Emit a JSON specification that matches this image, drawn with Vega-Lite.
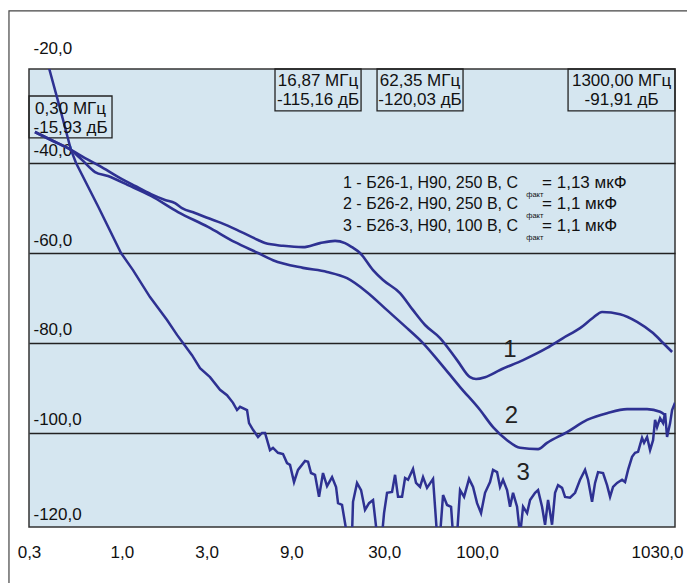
{
  "$schema": "https://vega.github.io/schema/vega-lite/v6.json",
  "width": 646,
  "height": 458,
  "autosize": {"type": "none"},
  "padding": {"left": 29, "top": 69, "right": 12, "bottom": 56},
  "background": "white",
  "datasets": {
    "frame": [{"f": 0.2314, "f2": 1900, "db": -6.2, "db2": -136}],
    "boxes": [
      {"f": 0.3, "f2": 0.88, "db": -25.1, "db2": -34.4},
      {"f": 7.279, "f2": 22.21, "db": -19.1, "db2": -28.4},
      {"f": 27.32, "f2": 83.3, "db": -19.1, "db2": -28.4},
      {"f": 325.0, "f2": 1300, "db": -19.1, "db2": -28.4}
    ],
    "curves": [
      {"s": "1", "f": 0.324, "db": -33.1}, {"s": "1", "f": 0.41, "db": -35.1}, {"s": "1", "f": 0.517, "db": -37.1},
      {"s": "1", "f": 0.62, "db": -38.9}, {"s": "1", "f": 0.753, "db": -40.7}, {"s": "1", "f": 0.951, "db": -43.1},
      {"s": "1", "f": 1.186, "db": -45.1}, {"s": "1", "f": 1.459, "db": -46.9}, {"s": "1", "f": 1.749, "db": -48.2},
      {"s": "1", "f": 1.991, "db": -48.9}, {"s": "1", "f": 2.18, "db": -50.0}, {"s": "1", "f": 2.58, "db": -51.1},
      {"s": "1", "f": 3.135, "db": -52.4}, {"s": "1", "f": 3.615, "db": -53.3}, {"s": "1", "f": 4.686, "db": -55.3},
      {"s": "1", "f": 5.842, "db": -57.1}, {"s": "1", "f": 6.397, "db": -57.8}, {"s": "1", "f": 8.076, "db": -58.4},
      {"s": "1", "f": 10.46, "db": -58.7}, {"s": "1", "f": 13.04, "db": -57.8}, {"s": "1", "f": 15.85, "db": -57.3},
      {"s": "1", "f": 18.04, "db": -57.8}, {"s": "1", "f": 19.75, "db": -58.7}, {"s": "1", "f": 21.91, "db": -60.0},
      {"s": "1", "f": 25.94, "db": -63.8}, {"s": "1", "f": 29.53, "db": -66.0}, {"s": "1", "f": 36.8, "db": -68.9},
      {"s": "1", "f": 43.56, "db": -72.7}, {"s": "1", "f": 50.9, "db": -76.0}, {"s": "1", "f": 61.83, "db": -78.9},
      {"s": "1", "f": 77.08, "db": -83.8}, {"s": "1", "f": 91.23, "db": -87.6}, {"s": "1", "f": 98.6, "db": -88.0},
      {"s": "1", "f": 110.8, "db": -87.6}, {"s": "1", "f": 134.6, "db": -86.0}, {"s": "1", "f": 181.4, "db": -83.8},
      {"s": "1", "f": 247.5, "db": -81.1}, {"s": "1", "f": 304.6, "db": -78.9}, {"s": "1", "f": 379.7, "db": -76.7},
      {"s": "1", "f": 449.4, "db": -74.4}, {"s": "1", "f": 505.1, "db": -73.1}, {"s": "1", "f": 637.7, "db": -73.6},
      {"s": "1", "f": 795.0, "db": -75.3}, {"s": "1", "f": 978.3, "db": -77.8}, {"s": "1", "f": 1114, "db": -80.0},
      {"s": "1", "f": 1252, "db": -82.0},
      {"s": "2", "f": 0.324, "db": -33.1}, {"s": "2", "f": 0.41, "db": -35.1}, {"s": "2", "f": 0.517, "db": -37.1},
      {"s": "2", "f": 0.596, "db": -39.3}, {"s": "2", "f": 0.706, "db": -42.0}, {"s": "2", "f": 0.835, "db": -42.9},
      {"s": "2", "f": 1.083, "db": -44.9}, {"s": "2", "f": 1.459, "db": -47.3}, {"s": "2", "f": 2.07, "db": -50.9},
      {"s": "2", "f": 3.054, "db": -54.2}, {"s": "2", "f": 4.335, "db": -57.6}, {"s": "2", "f": 5.842, "db": -60.0},
      {"s": "2", "f": 7.094, "db": -61.6}, {"s": "2", "f": 10.46, "db": -63.3}, {"s": "2", "f": 14.29, "db": -64.2},
      {"s": "2", "f": 18.52, "db": -65.6}, {"s": "2", "f": 23.99, "db": -68.7}, {"s": "2", "f": 31.11, "db": -72.7},
      {"s": "2", "f": 40.31, "db": -76.7}, {"s": "2", "f": 48.96, "db": -79.8}, {"s": "2", "f": 61.83, "db": -84.4},
      {"s": "2", "f": 80.14, "db": -89.8}, {"s": "2", "f": 103.9, "db": -94.9}, {"s": "2", "f": 122.9, "db": -98.7},
      {"s": "2", "f": 147.4, "db": -101.6}, {"s": "2", "f": 174.5, "db": -103.3}, {"s": "2", "f": 220.3, "db": -103.6},
      {"s": "2", "f": 247.5, "db": -102.2}, {"s": "2", "f": 320.8, "db": -99.8}, {"s": "2", "f": 415.7, "db": -97.1},
      {"s": "2", "f": 538.8, "db": -95.6}, {"s": "2", "f": 698.2, "db": -94.7}, {"s": "2", "f": 905.2, "db": -94.7},
      {"s": "2", "f": 1071, "db": -95.3}, {"s": "2", "f": 1143, "db": -96.0},
      {"s": "3", "f": 0.374, "db": -16.4}, {"s": "3", "f": 0.389, "db": -18.9}, {"s": "3", "f": 0.448, "db": -27.8},
      {"s": "3", "f": 0.517, "db": -37.1}, {"s": "3", "f": 0.552, "db": -40.0}, {"s": "3", "f": 0.734, "db": -49.6},
      {"s": "3", "f": 0.989, "db": -60.0}, {"s": "3", "f": 1.155, "db": -63.8}, {"s": "3", "f": 1.44, "db": -69.8},
      {"s": "3", "f": 1.796, "db": -74.9}, {"s": "3", "f": 2.044, "db": -78.2}, {"s": "3", "f": 2.209, "db": -80.0},
      {"s": "3", "f": 2.482, "db": -82.7}, {"s": "3", "f": 2.754, "db": -85.6}, {"s": "3", "f": 3.135, "db": -87.6},
      {"s": "3", "f": 3.569, "db": -90.4}, {"s": "3", "f": 3.908, "db": -91.6}, {"s": "3", "f": 4.224, "db": -93.3},
      {"s": "3", "f": 4.449, "db": -94.9}, {"s": "3", "f": 4.626, "db": -94.2}, {"s": "3", "f": 5.066, "db": -94.9},
      {"s": "3", "f": 5.199, "db": -97.8}, {"s": "3", "f": 5.475, "db": -99.3}, {"s": "3", "f": 5.842, "db": -100.9},
      {"s": "3", "f": 6.152, "db": -100.0}, {"s": "3", "f": 6.397, "db": -100.0}, {"s": "3", "f": 6.823, "db": -103.8},
      {"s": "3", "f": 7.094, "db": -103.3}, {"s": "3", "f": 7.568, "db": -104.4}, {"s": "3", "f": 8.076, "db": -104.7},
      {"s": "3", "f": 8.505, "db": -106.7}, {"s": "3", "f": 8.842, "db": -107.1}, {"s": "3", "f": 9.314, "db": -110.9},
      {"s": "3", "f": 9.808, "db": -108.2}, {"s": "3", "f": 10.74, "db": -106.2}, {"s": "3", "f": 11.17, "db": -106.4},
      {"s": "3", "f": 11.61, "db": -108.9}, {"s": "3", "f": 12.23, "db": -109.3}, {"s": "3", "f": 12.88, "db": -114.2},
      {"s": "3", "f": 13.56, "db": -108.9}, {"s": "3", "f": 14.29, "db": -111.8}, {"s": "3", "f": 15.25, "db": -109.8},
      {"s": "3", "f": 16.06, "db": -112.0}, {"s": "3", "f": 16.48, "db": -115.6}, {"s": "3", "f": 17.35, "db": -116.0},
      {"s": "3", "f": 18.52, "db": -122.7}, {"s": "3", "f": 19.75, "db": -122.7}, {"s": "3", "f": 20.01, "db": -115.3},
      {"s": "3", "f": 21.08, "db": -111.1}, {"s": "3", "f": 22.21, "db": -112.7}, {"s": "3", "f": 23.38, "db": -117.1},
      {"s": "3", "f": 24.63, "db": -115.6}, {"s": "3", "f": 25.94, "db": -114.9}, {"s": "3", "f": 27.32, "db": -122.7},
      {"s": "3", "f": 29.15, "db": -122.7}, {"s": "3", "f": 29.92, "db": -117.8}, {"s": "3", "f": 31.11, "db": -113.3},
      {"s": "3", "f": 33.19, "db": -113.1}, {"s": "3", "f": 34.51, "db": -109.3}, {"s": "3", "f": 35.87, "db": -114.2},
      {"s": "3", "f": 37.78, "db": -114.2}, {"s": "3", "f": 39.28, "db": -110.0}, {"s": "3", "f": 40.83, "db": -110.4},
      {"s": "3", "f": 43.56, "db": -108.0}, {"s": "3", "f": 45.29, "db": -111.1}, {"s": "3", "f": 47.71, "db": -112.0},
      {"s": "3", "f": 49.6, "db": -109.8}, {"s": "3", "f": 52.24, "db": -112.2}, {"s": "3", "f": 56.47, "db": -110.2},
      {"s": "3", "f": 59.47, "db": -122.7}, {"s": "3", "f": 61.83, "db": -122.7}, {"s": "3", "f": 64.29, "db": -113.8},
      {"s": "3", "f": 67.71, "db": -116.0}, {"s": "3", "f": 71.33, "db": -116.4}, {"s": "3", "f": 73.19, "db": -122.7},
      {"s": "3", "f": 77.08, "db": -122.7}, {"s": "3", "f": 80.14, "db": -112.7}, {"s": "3", "f": 84.42, "db": -114.2},
      {"s": "3", "f": 90.06, "db": -110.2}, {"s": "3", "f": 94.85, "db": -112.0}, {"s": "3", "f": 99.9, "db": -115.6},
      {"s": "3", "f": 105.2, "db": -117.8}, {"s": "3", "f": 110.8, "db": -113.3}, {"s": "3", "f": 118.2, "db": -110.9},
      {"s": "3", "f": 122.9, "db": -108.2}, {"s": "3", "f": 129.5, "db": -108.7}, {"s": "3", "f": 134.6, "db": -112.0},
      {"s": "3", "f": 139.9, "db": -110.4}, {"s": "3", "f": 147.4, "db": -112.7}, {"s": "3", "f": 153.2, "db": -116.4},
      {"s": "3", "f": 159.3, "db": -113.3}, {"s": "3", "f": 167.8, "db": -116.4}, {"s": "3", "f": 174.5, "db": -122.7},
      {"s": "3", "f": 181.4, "db": -116.4}, {"s": "3", "f": 191.1, "db": -117.8}, {"s": "3", "f": 198.6, "db": -114.9},
      {"s": "3", "f": 211.9, "db": -113.3}, {"s": "3", "f": 220.3, "db": -112.7}, {"s": "3", "f": 232.0, "db": -116.4},
      {"s": "3", "f": 241.2, "db": -120.4}, {"s": "3", "f": 250.8, "db": -114.9}, {"s": "3", "f": 264.1, "db": -120.4},
      {"s": "3", "f": 274.6, "db": -113.3}, {"s": "3", "f": 285.5, "db": -111.6}, {"s": "3", "f": 300.7, "db": -112.2},
      {"s": "3", "f": 312.6, "db": -114.2}, {"s": "3", "f": 333.6, "db": -114.4}, {"s": "3", "f": 355.9, "db": -113.3},
      {"s": "3", "f": 379.7, "db": -110.4}, {"s": "3", "f": 405.1, "db": -108.2}, {"s": "3", "f": 421.2, "db": -110.4},
      {"s": "3", "f": 443.6, "db": -115.3}, {"s": "3", "f": 461.2, "db": -111.1}, {"s": "3", "f": 479.5, "db": -108.7},
      {"s": "3", "f": 511.6, "db": -108.9}, {"s": "3", "f": 538.8, "db": -111.6}, {"s": "3", "f": 560.2, "db": -114.2},
      {"s": "3", "f": 582.4, "db": -112.0}, {"s": "3", "f": 613.4, "db": -111.1}, {"s": "3", "f": 654.5, "db": -110.4},
      {"s": "3", "f": 680.5, "db": -110.9}, {"s": "3", "f": 707.5, "db": -108.2}, {"s": "3", "f": 745.1, "db": -105.3},
      {"s": "3", "f": 774.6, "db": -104.4}, {"s": "3", "f": 805.4, "db": -104.2}, {"s": "3", "f": 848.2, "db": -101.1},
      {"s": "3", "f": 870.6, "db": -102.2}, {"s": "3", "f": 905.2, "db": -100.9}, {"s": "3", "f": 941.1, "db": -103.8},
      {"s": "3", "f": 978.3, "db": -101.6}, {"s": "3", "f": 1004, "db": -97.1}, {"s": "3", "f": 1030, "db": -98.7},
      {"s": "3", "f": 1071, "db": -96.7}, {"s": "3", "f": 1114, "db": -97.8}, {"s": "3", "f": 1143, "db": -95.6},
      {"s": "3", "f": 1173, "db": -100.9}, {"s": "3", "f": 1220, "db": -97.8}, {"s": "3", "f": 1252, "db": -94.9},
      {"s": "3", "f": 1300, "db": -93.3}
    ],
    "texts": [
      {"k": "box", "f": 0.514, "db": -29.1, "t": "0,30 МГц"},
      {"k": "box", "f": 0.514, "db": -33.3, "t": "-15,93 дБ"},
      {"k": "box", "f": 12.71, "db": -22.9, "t": "16,87 МГц"},
      {"k": "box", "f": 12.71, "db": -27.1, "t": "-115,16 дБ"},
      {"k": "box", "f": 47.71, "db": -22.9, "t": "62,35 МГц"},
      {"k": "box", "f": 47.71, "db": -27.1, "t": "-120,03 дБ"},
      {"k": "box", "f": 650.3, "db": -22.9, "t": "1300,00 МГц"},
      {"k": "box", "f": 650.3, "db": -27.1, "t": "-91,91 дБ"},
      {"k": "leg", "f": 17.58, "db": -45.6, "t": "1 - Б26-1, Н90, 250 В, C"},
      {"k": "val", "f": 232.0, "db": -45.6, "t": "= 1,13 мкФ"},
      {"k": "leg", "f": 17.58, "db": -50.2, "t": "2 - Б26-2, Н90, 250 В, C"},
      {"k": "val", "f": 232.0, "db": -50.2, "t": "= 1,1 мкФ"},
      {"k": "leg", "f": 17.58, "db": -55.1, "t": "3 - Б26-3, Н90, 100 В, C"},
      {"k": "val", "f": 232.0, "db": -55.1, "t": "= 1,1 мкФ"},
      {"k": "sub", "f": 189.0, "db": -47.6, "t": "факт"},
      {"k": "sub", "f": 189.0, "db": -52.3, "t": "факт"},
      {"k": "sub", "f": 189.0, "db": -57.2, "t": "факт"},
      {"k": "num", "f": 153.2, "db": -83.1, "t": "1"},
      {"k": "num", "f": 156.0, "db": -97.8, "t": "2"},
      {"k": "num", "f": 181.4, "db": -110.4, "t": "3"}
    ]
  },
  "encoding": {
    "x": {
      "field": "f",
      "type": "quantitative",
      "scale": {"type": "log", "domain": [0.3, 1300], "nice": false},
      "axis": {
        "values": [0.3, 1, 3, 9, 30, 100, 1030],
        "labelExpr": "replace(format(datum.value, '.1f'), '.', ',')",
        "ticks": false,
        "tickSize": 0,
        "domain": false,
        "grid": false,
        "labelPadding": 30,
        "labelBaseline": "alphabetic",
        "labelFlush": false,
        "labelOverlap": false,
        "labelBound": false,
        "labelFont": "Liberation Sans",
        "labelFontSize": 17,
        "labelColor": "#111",
        "title": null
      }
    },
    "y": {
      "field": "db",
      "type": "quantitative",
      "scale": {"domain": [-120.9, -19.1], "nice": false, "zero": false},
      "axis": {
        "values": [-20, -40, -60, -80, -100, -120],
        "labelExpr": "'-' + replace(format(-datum.value, '.1f'), '.', ',')",
        "orient": "left",
        "labelAlign": "left",
        "labelBaseline": "alphabetic",
        "labelPadding": -4,
        "ticks": false,
        "tickSize": 0,
        "domain": false,
        "grid": true,
        "gridColor": "#222",
        "gridWidth": 1.3,
        "gridOpacity": {"condition": {"test": "datum.value == -20 || datum.value == -120", "value": 0}, "value": 1},
        "labelOffset": {"condition": [{"test": "datum.value == -20", "value": -20}, {"test": "datum.value == -120", "value": -3}], "value": -8},
        "labelOverlap": false,
        "labelBound": false,
        "labelFont": "Liberation Sans",
        "labelFontSize": 17,
        "labelColor": "#111",
        "title": null
      }
    }
  },
  "layer": [
    {
      "data": {"name": "frame"},
      "mark": {"type": "rect", "fill": "white", "fillOpacity": 0, "stroke": "#444", "strokeWidth": 1.2, "clip": false},
      "encoding": {"x2": {"field": "f2"}, "y2": {"field": "db2"}}
    },
    {
      "data": {"name": "boxes"},
      "mark": {"type": "rect", "fill": "white", "fillOpacity": 0, "stroke": "#222", "strokeWidth": 1.3, "clip": false},
      "encoding": {"x2": {"field": "f2"}, "y2": {"field": "db2"}}
    },
    {
      "data": {"name": "curves"},
      "transform": [{"filter": "datum.s != '3'"}],
      "mark": {"type": "line", "color": "#2e3192", "strokeWidth": 2.6, "interpolate": "monotone", "clip": true},
      "encoding": {"detail": {"field": "s"}}
    },
    {
      "data": {"name": "curves"},
      "transform": [{"filter": "datum.s == '3'"}],
      "mark": {"type": "line", "color": "#2e3192", "strokeWidth": 2.5, "clip": true},
      "encoding": {"detail": {"field": "s"}}
    },
    {
      "data": {"name": "texts"},
      "transform": [{"filter": "datum.k == 'box'"}],
      "mark": {"type": "text", "align": "center", "baseline": "alphabetic", "font": "Liberation Sans", "fontSize": 17, "color": "#111"},
      "encoding": {"text": {"field": "t"}}
    },
    {
      "data": {"name": "texts"},
      "transform": [{"filter": "datum.k == 'leg'"}],
      "mark": {"type": "text", "align": "left", "baseline": "alphabetic", "font": "Liberation Sans", "fontSize": 16, "color": "#111"},
      "encoding": {"text": {"field": "t"}}
    },
    {
      "data": {"name": "texts"},
      "transform": [{"filter": "datum.k == 'val'"}],
      "mark": {"type": "text", "align": "left", "baseline": "alphabetic", "font": "Liberation Sans", "fontSize": 17, "color": "#111"},
      "encoding": {"text": {"field": "t"}}
    },
    {
      "data": {"name": "texts"},
      "transform": [{"filter": "datum.k == 'sub'"}],
      "mark": {"type": "text", "align": "left", "baseline": "alphabetic", "font": "Liberation Sans", "fontSize": 7.5, "color": "#111"},
      "encoding": {"text": {"field": "t"}}
    },
    {
      "data": {"name": "texts"},
      "transform": [{"filter": "datum.k == 'num'"}],
      "mark": {"type": "text", "align": "center", "baseline": "alphabetic", "font": "Liberation Sans", "fontSize": 24, "color": "#222"},
      "encoding": {"text": {"field": "t"}}
    }
  ],
  "config": {
    "view": {"fill": "#d5e6f0", "stroke": "#333", "strokeWidth": 1.5}
  }
}
